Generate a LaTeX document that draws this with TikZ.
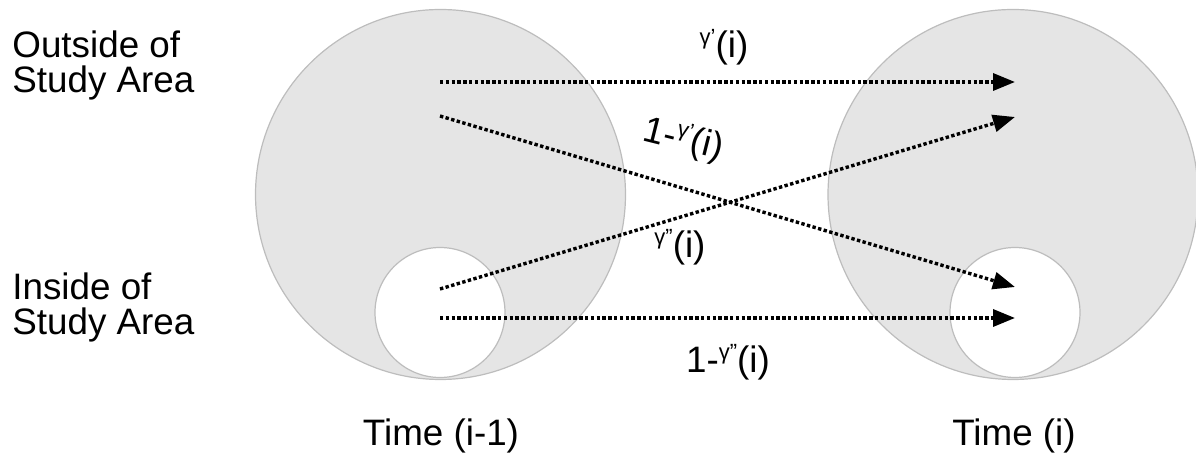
\documentclass[tikz,border=0pt]{standalone}
\usepackage{fontspec}
\setmainfont{Liberation Sans}
\usetikzlibrary{arrows.meta}
\definecolor{areafill}{HTML}{E5E5E5}
\definecolor{areaedge}{HTML}{BDBDBD}
\newcommand{\gsup}[1]{\raisebox{6.5pt}{\fontsize{11}{11}\selectfont γ#1}}

\begin{document}
\begin{tikzpicture}[x=0.5pt,y=-0.5pt,>={Triangle[length=11pt,width=8.5pt]},
  bigarea/.style={circle,fill=areafill,draw=areaedge,line width=0.6pt,minimum size=185pt,inner sep=0pt},
  smallarea/.style={circle,fill=white,draw=areaedge,line width=0.6pt,minimum size=65pt,inner sep=0pt},
  flow/.style={->,line width=1.7pt,dash pattern=on 1.7pt off 1.2pt},
  lbl/.style={font=\fontsize{18.4}{17.6}\selectfont,inner sep=0pt}]
  \useasboundingbox (0,0) rectangle (1196,459);

  % the two time steps
  \node[bigarea] (before) at (440.5,194.5) {};
  \node[smallarea] (beforein) at (440,312.5) {};
  \node[bigarea] (after) at (1013,194.5) {};
  \node[smallarea] (afterin) at (1015,312.5) {};

  \coordinate (outstart) at (440,82);
  \coordinate (leavestart) at (440,116);
  \coordinate (enterstart) at (440,289);
  \coordinate (instart) at (440,318);
  \coordinate (outend) at (1015,82);
  \coordinate (enterend) at (1015,117);
  \coordinate (leaveend) at (1015,287);
  \coordinate (inend) at (1015,318);

  \draw[flow] (outstart) -- (outend);
  \draw[flow] (leavestart) -- (leaveend);
  \draw[flow] (enterstart) -- (enterend);
  \draw[flow] (instart) -- (inend);

  % transition labels
  \node[lbl,anchor=base] (gout) at (724,58) {\gsup{’}(i)};
  \node[lbl,anchor=base,rotate=-14] (gleave) at (681,150) {1-\gsup{’}(i)};
  \node[lbl,anchor=base] (genter) at (680,258) {\gsup{”}(i)};
  \node[lbl,anchor=base] (gin) at (728,373) {1-\gsup{”}(i)};

  % row and column titles
  \node[lbl,anchor=base west,align=left] (outside) at (12,93) {Outside of\\Study Area};
  \node[lbl,anchor=base west,align=left] (inside) at (12,335) {Inside of\\Study Area};
  \node[lbl,anchor=base] (tprev) at (441,446) {Time (i-1)};
  \node[lbl,anchor=base] (tnow) at (1014,446) {Time (i)};
\end{tikzpicture}
\end{document}
